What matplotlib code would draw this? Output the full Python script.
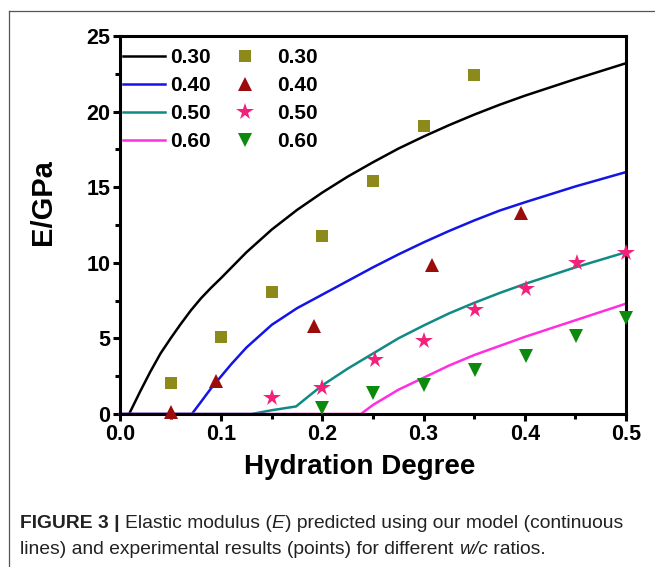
import matplotlib
matplotlib.use("Agg")
import matplotlib.pyplot as plt
from matplotlib.lines import Line2D
from matplotlib.ticker import MultipleLocator, FuncFormatter

plt.rcParams['font.family'] = ['Liberation Sans', 'DejaVu Sans']

# ---- model curves (continuous lines) ----
x30 = [0.009, 0.02, 0.03, 0.04, 0.05, 0.06, 0.07, 0.08, 0.09, 0.10, 0.125, 0.15,
       0.175, 0.20, 0.225, 0.25, 0.275, 0.30, 0.325, 0.35, 0.375, 0.40, 0.45, 0.50]
y30 = [0.0, 1.5, 2.8, 4.0, 5.0, 5.95, 6.85, 7.65, 8.35, 9.0, 10.7, 12.2,
       13.5, 14.65, 15.7, 16.65, 17.55, 18.35, 19.1, 19.8, 20.45, 21.05, 22.15, 23.2]
x40 = [0.0, 0.071, 0.08, 0.09, 0.10, 0.11, 0.125, 0.15, 0.175, 0.20, 0.225, 0.25,
       0.275, 0.30, 0.325, 0.35, 0.375, 0.40, 0.45, 0.50]
y40 = [0.0, 0.0, 0.8, 1.7, 2.5, 3.3, 4.4, 5.9, 7.0, 7.9, 8.8, 9.7,
       10.55, 11.35, 12.1, 12.8, 13.45, 14.0, 15.05, 16.0]
x50 = [0.0, 0.13, 0.15, 0.174, 0.185, 0.20, 0.225, 0.25, 0.275, 0.30, 0.325, 0.35,
       0.375, 0.40, 0.45, 0.50]
y50 = [0.0, 0.0, 0.25, 0.5, 1.1, 1.9, 3.0, 4.0, 5.0, 5.85, 6.65, 7.35,
       8.0, 8.6, 9.7, 10.7]
x60 = [0.0, 0.238, 0.25, 0.275, 0.30, 0.325, 0.35, 0.375, 0.40, 0.45, 0.50]
y60 = [0.0, 0.0, 0.6, 1.6, 2.4, 3.2, 3.9, 4.5, 5.1, 6.2, 7.3]

# ---- experimental points ----
px30 = [0.05, 0.10, 0.15, 0.20, 0.25, 0.30, 0.35]
py30 = [2.05, 5.1, 8.1, 11.8, 15.4, 19.07, 22.4]
px40 = [0.05, 0.095, 0.192, 0.308, 0.396]
py40 = [0.1, 2.2, 5.8, 9.87, 13.3]
px50 = [0.15, 0.20, 0.252, 0.30, 0.351, 0.401, 0.452, 0.50]
py50 = [1.06, 1.7, 3.55, 4.8, 6.9, 8.26, 9.98, 10.64]
px60 = [0.20, 0.25, 0.30, 0.351, 0.401, 0.451, 0.50]
py60 = [0.4, 1.39, 1.94, 2.93, 3.85, 5.13, 6.34]

labels = ["0.30", "0.40", "0.50", "0.60"]
line_colors = ["#000000", "#1414e6", "#0f8a84", "#ff2ede"]
mk_colors = ["#8c8a1a", "#9b0d0d", "#f5207a", "#0d8a0d"]
markers = ["s", "^", "*", "v"]
msizes = [8.3, 10, 13, 10.5]

W, H = 655, 567
fig = plt.figure(figsize=(W / 100, H / 100), dpi=100)
ax = fig.add_axes([120 / W, 1 - 414 / H, (626 - 120) / W, (414 - 36) / H])

lines_x = [x30, x40, x50, x60]
lines_y = [y30, y40, y50, y60]
pts_x = [px30, px40, px50, px60]
pts_y = [py30, py40, py50, py60]

for i in range(4):
    ax.plot(lines_x[i], lines_y[i], color=line_colors[i], lw=1.8, zorder=2,
            clip_on=False, solid_joinstyle='round')
for i in range(4):
    ax.plot(pts_x[i], pts_y[i], linestyle='none', marker=markers[i],
            color=mk_colors[i], markersize=msizes[i], markeredgewidth=0,
            zorder=3, clip_on=False)

ax.set_xlim(0, 0.5)
ax.set_ylim(0, 25)
ax.xaxis.set_major_locator(MultipleLocator(0.1))
ax.xaxis.set_minor_locator(MultipleLocator(0.05))
ax.yaxis.set_major_locator(MultipleLocator(5))
ax.yaxis.set_minor_locator(MultipleLocator(2.5))
ax.xaxis.set_major_formatter(FuncFormatter(lambda v, p: f"{v:.1f}"))
ax.yaxis.set_major_formatter(FuncFormatter(lambda v, p: f"{v:.0f}"))

for s in ax.spines.values():
    s.set_linewidth(2.2)
ax.tick_params(axis='both', which='major', direction='out', length=5, width=2.2,
               labelsize=15.5, pad=2)
ax.tick_params(axis='both', which='minor', direction='out', length=3.5, width=2.2)
for lab in ax.get_xticklabels() + ax.get_yticklabels():
    lab.set_fontweight('bold')

# axis titles placed in figure pixels
fig.text(360 / W, 1 - 474 / H, "Hydration Degree", fontsize=20, fontweight='bold',
         ha='center', va='baseline')
fig.text(43 / W, 1 - 202 / H, "E/GPa", fontsize=21, fontweight='bold',
         ha='center', va='center', rotation=90)

# legends: lines column and markers column
fs_leg = 15
em = fs_leg * 100 / 72.0
line_handles = [Line2D([], [], color=line_colors[i], lw=1.8) for i in range(4)]
mk_handles = [Line2D([], [], color=mk_colors[i], marker=markers[i], linestyle='none',
                     markersize=msizes[i], markeredgewidth=0) for i in range(4)]
common = dict(frameon=False, prop={'weight': 'bold', 'size': fs_leg},
              handlelength=2.0, labelspacing=0.44, borderaxespad=0.0,
              borderpad=0.4, loc='upper left')
axw = 626 - 120
axh = 414 - 36
top_px = 48
leg1 = ax.legend(line_handles, labels, handletextpad=0.25,
                 bbox_to_anchor=((123 - 120 - 0.4 * em) / axw, 1 - (top_px - 36 - 0.4 * em) / axh),
                 **common)
ax.add_artist(leg1)
leg2 = ax.legend(mk_handles, labels, handletextpad=0.55,
                 bbox_to_anchor=((224 - 120 - 0.4 * em) / axw, 1 - (top_px - 36 - 0.4 * em) / axh),
                 **common)

# page frame lines
fig.add_artist(Line2D([9 / W, 9 / W], [0, 1 - 11 / H], color='#555555', lw=0.9,
                      transform=fig.transFigure))
fig.add_artist(Line2D([9 / W, 1], [1 - 11 / H, 1 - 11 / H], color='#555555', lw=0.9,
                      transform=fig.transFigure))

# caption with mixed styles
fig.canvas.draw()
renderer = fig.canvas.get_renderer()
cap_font = ['Liberation Sans Narrow', 'Liberation Sans', 'DejaVu Sans']


def write_segments(segments, x0, y0, size):
    x = x0
    for txt, weight, style in segments:
        t = fig.text(x, y0, txt, fontsize=size, fontweight=weight, fontstyle=style,
                     family=cap_font, transform=None, va='baseline', ha='left',
                     color='#222222')
        bb = t.get_window_extent(renderer=renderer)
        x = bb.x1


cap_size = 13.9
write_segments([("FIGURE 3 | ", 'bold', 'normal'),
                ("Elastic modulus (", 'normal', 'normal'),
                ("E", 'normal', 'italic'),
                (") predicted using our model (continuous", 'normal', 'normal')],
               20, H - 528, cap_size)
write_segments([("lines) and experimental results (points) for different ", 'normal', 'normal'),
                ("w/c", 'normal', 'italic'),
                (" ratios.", 'normal', 'normal')],
               20, H - 554, cap_size)

fig.savefig("out.png", dpi=100)
